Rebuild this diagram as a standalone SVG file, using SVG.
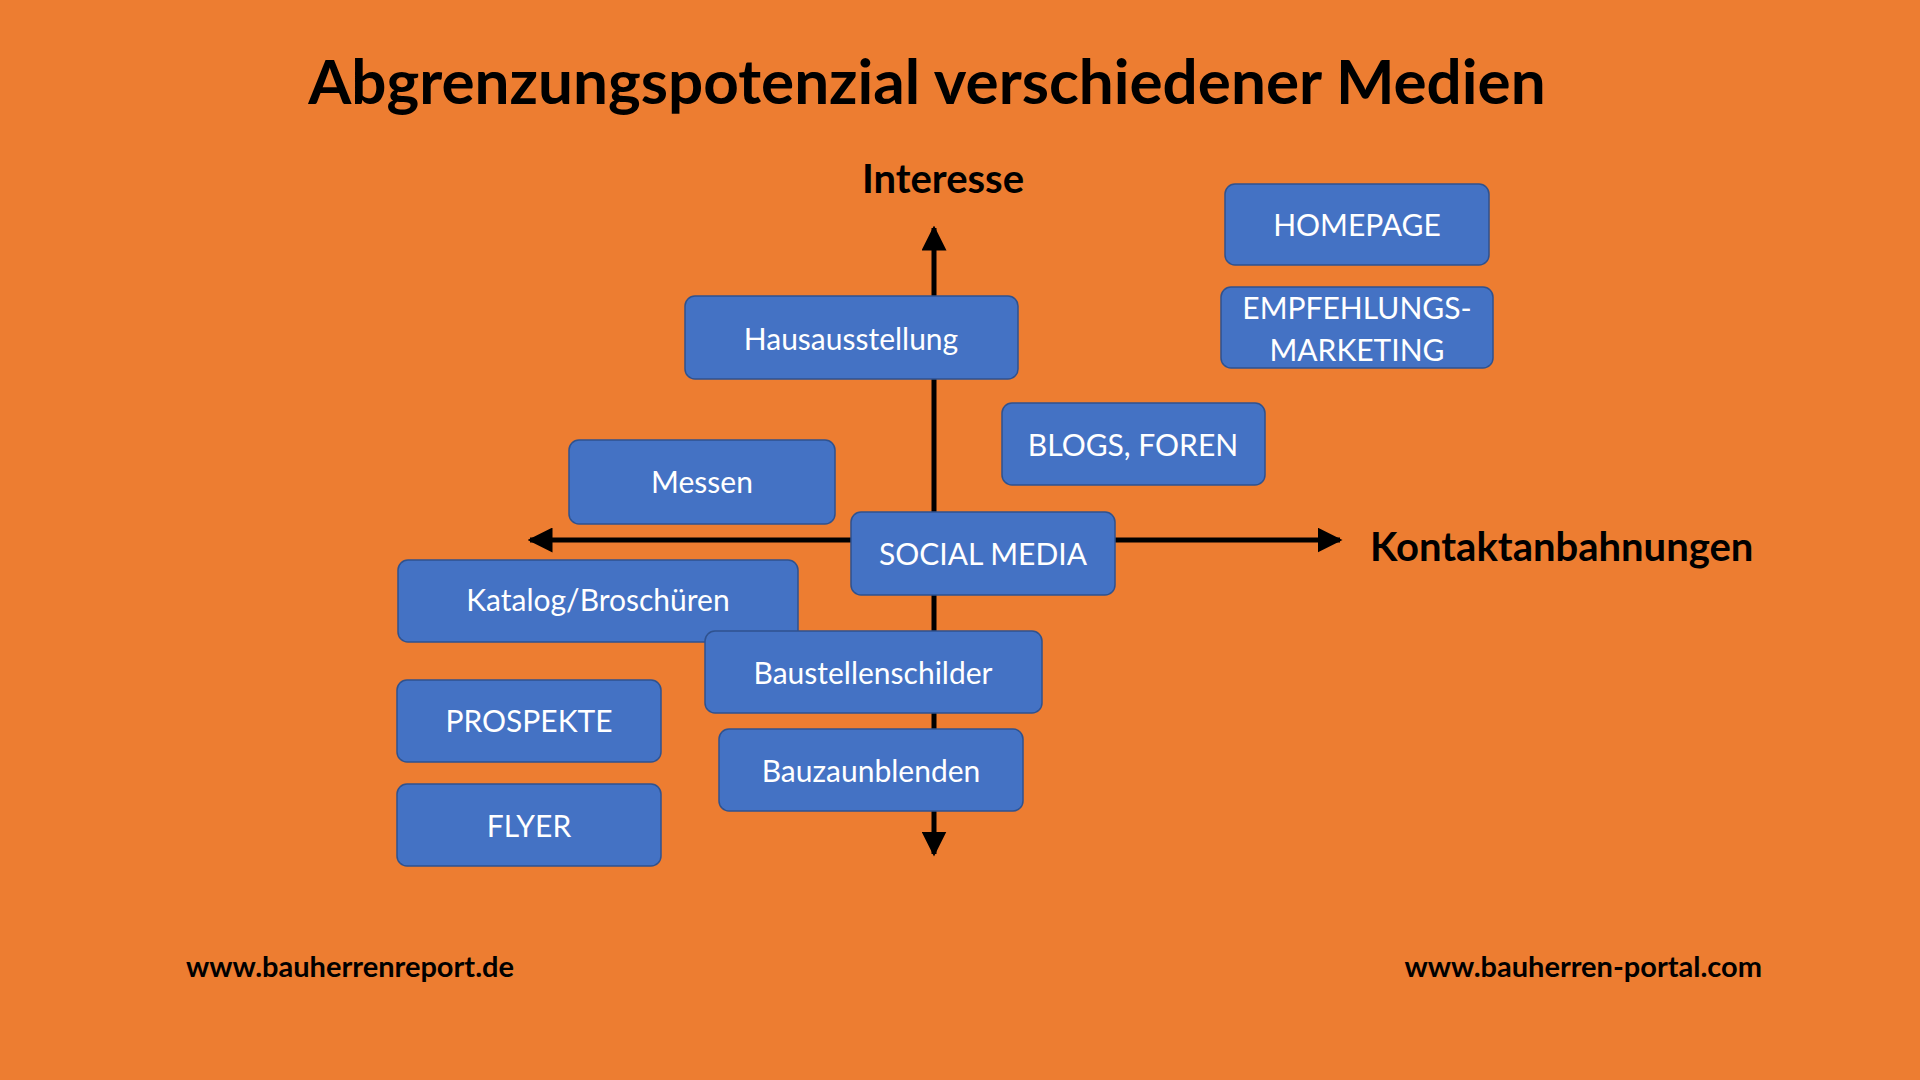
<svg xmlns="http://www.w3.org/2000/svg" width="1920" height="1080" viewBox="0 0 1920 1080">
<defs>
<style>
.b rect{fill:#4472C4;stroke:#2F528F;stroke-width:1.5}
.b text{fill:#fff;font-family:Lato,"Open Sans",sans-serif;font-size:30px;text-anchor:middle;dominant-baseline:central}
.h{font-family:Lato,"Open Sans",sans-serif;font-weight:bold;fill:#000}
</style>
<marker id="a" viewBox="0 0 10 10" refX="9" refY="5" markerWidth="5" markerHeight="5" orient="auto-start-reverse"><path d="M0,0L10,5L0,10z" fill="#000"/></marker>
</defs>
<rect width="1920" height="1080" fill="#ED7D31"/>
<text class="h" x="927" y="104" font-size="62" text-anchor="middle">Abgrenzungspotenzial verschiedener Medien</text>
<text class="h" x="943" y="193" font-size="40" text-anchor="middle">Interesse</text>
<text class="h" x="1370" y="561" font-size="40">Kontaktanbahnungen</text>
<text class="h" x="186" y="977" font-size="29">www.bauherrenreport.de</text>
<text class="h" x="1762" y="977" font-size="29" text-anchor="end">www.bauherren-portal.com</text>
<g id="connectors" stroke="#000" stroke-width="5">
<line x1="934" y1="228" x2="934" y2="854" marker-start="url(#a)" marker-end="url(#a)"/>
<line x1="530" y1="540" x2="1340" y2="540" marker-start="url(#a)" marker-end="url(#a)"/>
</g>
<g id="homepage" class="b"><rect x="1225" y="184" width="264" height="81" rx="10"/><text x="1357" y="224">HOMEPAGE</text></g>
<g id="empfehlung" class="b"><rect x="1221" y="287" width="272" height="81" rx="10"/><text x="1357" y="307">EMPFEHLUNGS-</text><text x="1357" y="349">MARKETING</text></g>
<g id="hausausstellung" class="b"><rect x="685" y="296" width="333" height="83" rx="10"/><text x="851" y="338">Hausausstellung</text></g>
<g id="blogs" class="b"><rect x="1002" y="403" width="263" height="82" rx="10"/><text x="1133" y="444">BLOGS, FOREN</text></g>
<g id="messen" class="b"><rect x="569" y="440" width="266" height="84" rx="10"/><text x="702" y="481">Messen</text></g>
<g id="katalog" class="b"><rect x="398" y="560" width="400" height="82" rx="10"/><text x="598" y="599">Katalog/Broschüren</text></g>
<g id="social" class="b"><rect x="851" y="512" width="264" height="83" rx="10"/><text x="983" y="553">SOCIAL MEDIA</text></g>
<g id="baustellenschilder" class="b"><rect x="705" y="631" width="337" height="82" rx="10"/><text x="873" y="672">Baustellenschilder</text></g>
<g id="prospekte" class="b"><rect x="397" y="680" width="264" height="82" rx="10"/><text x="529" y="720">PROSPEKTE</text></g>
<g id="bauzaun" class="b"><rect x="719" y="729" width="304" height="82" rx="10"/><text x="871" y="770">Bauzaunblenden</text></g>
<g id="flyer" class="b"><rect x="397" y="784" width="264" height="82" rx="10"/><text x="529" y="825">FLYER</text></g>
</svg>
